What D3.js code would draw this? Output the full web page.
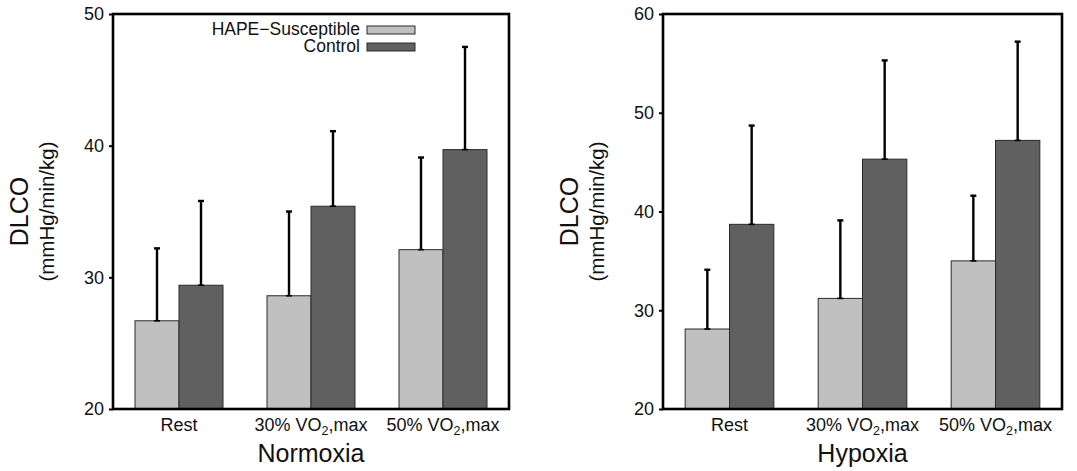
<!DOCTYPE html>
<html>
<head>
<meta charset="utf-8">
<script src="https://cdn.jsdelivr.net/npm/d3@7"></script>
<style>
  html, body { margin: 0; padding: 0; background: #fff; }
  svg { display: block; font-family: "Liberation Sans", Arial, Helvetica, sans-serif; }
</style>
</head>
<body>
<svg id="chart" width="1077" height="471"></svg>
<script>
// Exercise stages (the "2" after "VO" is set as a subscript)
const categories = ["Rest", "30% VO2,max", "50% VO2,max"];
const seriesNames = ["HAPE\u2212Susceptible", "Control"];
const seriesColors = ["#c0c0c0", "#606060"];

// DLCO (mmHg/min/kg), mean and SD — normoxia
const normoxiaHape = [26.7, 28.6, 32.1];
const normoxiaHapeSd = [5.5, 6.4, 7.0];
const normoxiaControl = [29.4, 35.4, 39.7];
const normoxiaControlSd = [6.4, 5.7, 7.8];

// DLCO (mmHg/min/kg), mean and SD — hypoxia
const hypoxiaHape = [28.1, 31.2, 35.0];
const hypoxiaHapeSd = [6.0, 7.9, 6.6];
const hypoxiaControl = [38.7, 45.3, 47.2];
const hypoxiaControlSd = [10.0, 10.0, 10.0];

// Axis ranges and ticks
const normoxiaDomain = [20, 50];
const normoxiaTicks = [20, 30, 40, 50];
const hypoxiaDomain = [20, 60];
const hypoxiaTicks = [20, 30, 40, 50, 60];

const svg = d3.select("#chart");

function drawPanel(opts) {
  const { left, right, top, bottom, domain, ticks, title, hape, hapeSd, control, controlSd, legend } = opts;
  const g = svg.append("g");

  const x0 = d3.scaleBand().domain(categories).range([left, right]).paddingInner(0).paddingOuter(0);
  const x1 = d3.scaleBand().domain(seriesNames).range([0, x0.bandwidth() * 2 / 3]);
  const y = d3.scaleLinear().domain(domain).range([bottom, top]);

  const rows = categories.map((c, i) => ({
    cat: c,
    bars: [
      { s: seriesNames[0], v: hape[i], sd: hapeSd[i], color: seriesColors[0] },
      { s: seriesNames[1], v: control[i], sd: controlSd[i], color: seriesColors[1] }
    ]
  }));
  const offset = x0.bandwidth() / 6;

  const groups = g.selectAll("g.grp").data(rows).join("g")
    .attr("class", "grp")
    .attr("transform", d => `translate(${x0(d.cat) + offset},0)`);

  groups.selectAll("rect").data(d => d.bars).join("rect")
    .attr("x", d => x1(d.s))
    .attr("width", x1.bandwidth())
    .attr("y", d => y(d.v))
    .attr("height", d => y(domain[0]) - y(d.v))
    .attr("fill", d => d.color)
    .attr("stroke", "#2a2a2a")
    .attr("stroke-width", 1);

  // upper error bars with caps at both ends
  const capHalf = 3;
  const eb = groups.selectAll("g.err").data(d => d.bars).join("g").attr("class", "err")
    .attr("stroke", "#000").attr("stroke-width", 2.4);
  eb.append("line")
    .attr("x1", d => x1(d.s) + x1.bandwidth() / 2)
    .attr("x2", d => x1(d.s) + x1.bandwidth() / 2)
    .attr("y1", d => y(d.v))
    .attr("y2", d => y(d.v + d.sd));
  eb.append("line")
    .attr("x1", d => x1(d.s) + x1.bandwidth() / 2 - capHalf)
    .attr("x2", d => x1(d.s) + x1.bandwidth() / 2 + capHalf)
    .attr("y1", d => y(d.v + d.sd))
    .attr("y2", d => y(d.v + d.sd));
  eb.append("line")
    .attr("x1", d => x1(d.s) + x1.bandwidth() / 2 - capHalf)
    .attr("x2", d => x1(d.s) + x1.bandwidth() / 2 + capHalf)
    .attr("y1", d => y(d.v))
    .attr("y2", d => y(d.v))
    .attr("stroke-width", 1.6);

  // y axis
  const yAxis = d3.axisLeft(y).tickValues(ticks).tickSize(4).tickPadding(5).tickFormat(d3.format("d"));
  const ya = g.append("g").attr("transform", `translate(${left},0)`).call(yAxis);
  ya.select(".domain").remove();
  ya.selectAll(".tick line").attr("stroke", "#000").attr("stroke-width", 2);
  ya.selectAll(".tick text").attr("font-size", 18).attr("fill", "#111")
    .attr("font-family", "Liberation Sans, Arial, sans-serif");

  // x category labels
  const xa = g.append("g").attr("transform", `translate(0,${bottom})`)
    .call(d3.axisBottom(x0).tickSize(0).tickPadding(0).tickFormat(""));
  xa.select(".domain").remove();
  xa.selectAll(".tick").each(function (d) {
    const t = d3.select(this).append("text")
      .attr("y", 22)
      .attr("text-anchor", "middle")
      .attr("font-size", 18)
      .attr("fill", "#111");
    const m = d.match(/^(.*VO)2(.*)$/);
    if (m) {
      t.append("tspan").text(m[1]);
      t.append("tspan").attr("font-size", 12.5).attr("dy", 4).text("2");
      t.append("tspan").attr("dy", -4).text(m[2]);
    } else {
      t.text(d);
    }
  });

  // frame
  g.append("rect")
    .attr("x", left).attr("y", top)
    .attr("width", right - left).attr("height", bottom - top)
    .attr("fill", "none").attr("stroke", "#000").attr("stroke-width", 2.6);

  // axis titles
  g.append("text")
    .attr("x", (left + right) / 2).attr("y", bottom + 53)
    .attr("text-anchor", "middle").attr("font-size", 25).attr("fill", "#111")
    .text(title);
  const cy = (top + bottom) / 2;
  g.append("text")
    .attr("transform", `translate(${left - 85},${cy}) rotate(-90)`)
    .attr("text-anchor", "middle").attr("font-size", 25).attr("fill", "#111")
    .text("DLCO");
  g.append("text")
    .attr("transform", `translate(${left - 59.5},${cy}) rotate(-90)`)
    .attr("text-anchor", "middle").attr("font-size", 20.5).attr("fill", "#111")
    .text("(mmHg/min/kg)");

  if (legend) {
    const lg = g.append("g");
    const items = lg.selectAll("g").data(seriesNames).join("g")
      .attr("transform", (d, i) => `translate(${legend.x},${legend.y + i * 17})`);
    items.append("text")
      .attr("x", -7).attr("y", 4)
      .attr("dy", "0.3em")
      .attr("text-anchor", "end").attr("font-size", 17.5).attr("fill", "#111")
      .text(d => d);
    items.append("rect")
      .attr("x", 0).attr("y", 0).attr("width", 48).attr("height", 8)
      .attr("fill", (d, i) => seriesColors[i])
      .attr("stroke", "#2a2a2a").attr("stroke-width", 1);
  }
}

drawPanel({
  left: 113, right: 509, top: 14, bottom: 409,
  domain: normoxiaDomain, ticks: normoxiaTicks, title: "Normoxia",
  hape: normoxiaHape, hapeSd: normoxiaHapeSd,
  control: normoxiaControl, controlSd: normoxiaControlSd,
  legend: { x: 367, y: 26 }
});

drawPanel({
  left: 663, right: 1062, top: 14, bottom: 409,
  domain: hypoxiaDomain, ticks: hypoxiaTicks, title: "Hypoxia",
  hape: hypoxiaHape, hapeSd: hypoxiaHapeSd,
  control: hypoxiaControl, controlSd: hypoxiaControlSd,
  legend: null
});
</script>
</body>
</html>
